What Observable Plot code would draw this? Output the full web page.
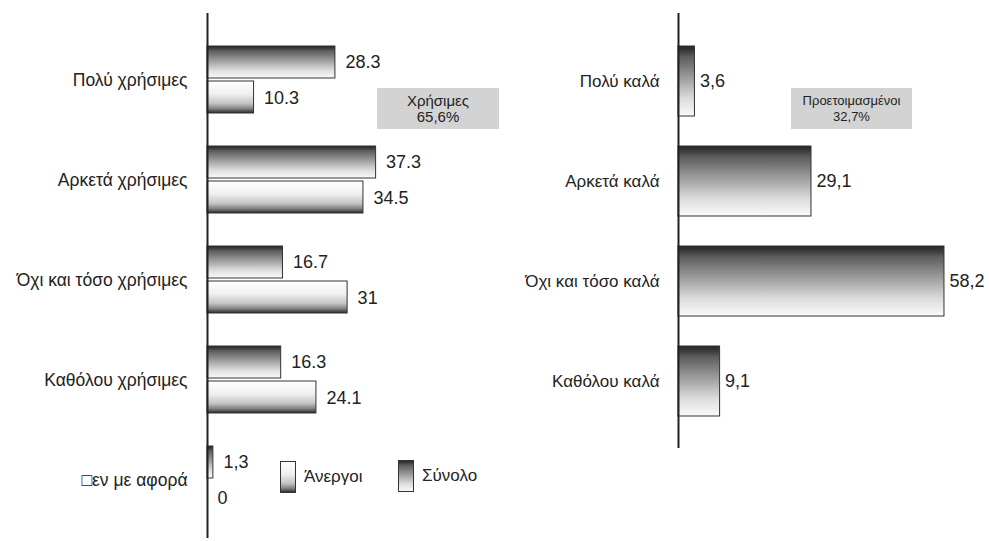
<!DOCTYPE html>
<html>
<head>
<meta charset="utf-8">
<script src="https://cdn.jsdelivr.net/npm/d3@7"></script>
<script src="https://cdn.jsdelivr.net/npm/@observablehq/plot@0.6"></script>
<style>
  html, body { margin: 0; padding: 0; background: #fff; }
  body { width: 989px; height: 541px; position: relative; overflow: hidden;
         font-family: "Liberation Sans", Arial, sans-serif; color: #222; }
  .panel { position: absolute; top: 0; }
  .note { position: absolute; background: #d3d3d3; text-align: center;
          line-height: 16px; color: #222; box-sizing: border-box; padding-top: 5px; }
  .legend { position: absolute; display: flex; align-items: center; font-size: 17px; color: #222; }
  .legend svg { margin-right: 7px; }
</style>
</head>
<body>
<svg width="0" height="0" style="position:absolute">
  <defs>
    <linearGradient id="gS" x1="0" y1="0" x2="0" y2="1">
      <stop offset="0" stop-color="#262626"/>
      <stop offset="0.07" stop-color="#3a3a3a"/>
      <stop offset="0.15" stop-color="#5c5c5c"/>
      <stop offset="0.45" stop-color="#9c9c9c"/>
      <stop offset="0.75" stop-color="#dcdcdc"/>
      <stop offset="1" stop-color="#fbfbfb"/>
    </linearGradient>
    <linearGradient id="gA" x1="0" y1="0" x2="0" y2="1">
      <stop offset="0" stop-color="#ffffff"/>
      <stop offset="0.4" stop-color="#f0f0f0"/>
      <stop offset="0.7" stop-color="#c4c4c4"/>
      <stop offset="0.88" stop-color="#7a7a7a"/>
      <stop offset="1" stop-color="#262626"/>
    </linearGradient>
  </defs>
</svg>
<div id="left" class="panel" style="left:0"></div>
<div id="right" class="panel" style="left:470px"></div>
<div class="note" style="left:377px; top:88px; width:122px; height:41px; font-size:15px;">Χρήσιμες<br>65,6%</div>
<div class="note" style="left:791px; top:88px; width:121px; height:41px; font-size:13px;">Προετοιμασμένοι<br>32,7%</div>
<div class="legend" style="left:280px; top:461px;">
  <svg width="17" height="32"><rect x="0.5" y="0.5" width="15" height="31" fill="url(#gA)" stroke="#333"/></svg>Άνεργοι
</div>
<div class="legend" style="left:398px; top:460px;">
  <svg width="17" height="32"><rect x="0.5" y="0.5" width="15" height="31" fill="url(#gS)" stroke="#333"/></svg>Σύνολο
</div>
<script>
const leftCategories = ["Πολύ χρήσιμες", "Αρκετά χρήσιμες", "Όχι και τόσο χρήσιμες", "Καθόλου χρήσιμες", "\u25A1εν με αφορά"];
const leftSynolo = [28.3, 37.3, 16.7, 16.3, 1.3];
const leftAnergoi = [10.3, 34.5, 31, 24.1, 0];
const leftSynoloLabels = ["28.3", "37.3", "16.7", "16.3", "1,3"];
const leftAnergoiLabels = ["10.3", "34.5", "31", "24.1", "0"];

const rightCategories = ["Πολύ καλά", "Αρκετά καλά", "Όχι και τόσο καλά", "Καθόλου καλά"];
const rightValues = [3.6, 29.1, 58.2, 9.1];
const rightLabels = ["3,6", "29,1", "58,2", "9,1"];

const font = "'Liberation Sans', Arial, sans-serif";

const synolo = leftCategories.map((c, i) => ({cat: c, v: leftSynolo[i], label: leftSynoloLabels[i]}));
const anergoi = leftCategories.map((c, i) => ({cat: c, v: leftAnergoi[i], label: leftAnergoiLabels[i]}));
const right = rightCategories.map((c, i) => ({cat: c, v: rightValues[i], label: rightLabels[i]}));

const leftPlot = Plot.plot({
  width: 560, height: 541,
  marginTop: 13, marginBottom: 3, marginLeft: 207, marginRight: 0,
  style: {fontFamily: font, background: "transparent", color: "#222", overflow: "visible"},
  x: {domain: [0, 60], range: [207, 478.2], axis: null},
  y: {domain: leftCategories, range: [29.5, 529.5], padding: 0, round: false, axis: null},
  marks: [
    Plot.barX(synolo.filter(d => d.v > 0), {x: "v", y: "cat", fill: "url(#gS)", stroke: "#333", strokeWidth: 1, insetTop: 16.5, insetBottom: 51.5}),
    Plot.barX(anergoi.filter(d => d.v > 0), {x: "v", y: "cat", fill: "url(#gA)", stroke: "#333", strokeWidth: 1, insetTop: 51.5, insetBottom: 16.5}),
    Plot.text(synolo, {x: "v", y: "cat", text: "label", dx: 10, dy: -18, textAnchor: "start", fontSize: 18, fill: "#222"}),
    Plot.text(anergoi, {x: "v", y: "cat", text: "label", dx: 10, dy: 18, textAnchor: "start", fontSize: 18, fill: "#222"}),
    Plot.axisY({tickSize: 0, tickPadding: 20, fontSize: 17.5, label: null, fill: "#222"}),
    Plot.ruleX([0], {stroke: "#222", strokeWidth: 2})
  ]
});
document.getElementById("left").appendChild(leftPlot);

const rightPlot = Plot.plot({
  width: 519, height: 541,
  marginTop: 13, marginBottom: 93, marginLeft: 207, marginRight: 0,
  style: {fontFamily: font, background: "transparent", color: "#222", overflow: "visible"},
  x: {domain: [0, 60], range: [208, 482.2], axis: null},
  y: {domain: rightCategories, range: [31, 431], padding: 0, round: false, axis: null},
  marks: [
    Plot.barX(right, {x: "v", y: "cat", fill: "url(#gS)", stroke: "#333", strokeWidth: 1, insetTop: 15, insetBottom: 15}),
    Plot.text(right, {x: "v", y: "cat", text: "label", dx: 5, textAnchor: "start", fontSize: 18, fill: "#222"}),
    Plot.axisY({tickSize: 0, tickPadding: 18, fontSize: 17, label: null, fill: "#222"}),
    Plot.ruleX([0], {stroke: "#222", strokeWidth: 2})
  ]
});
document.getElementById("right").appendChild(rightPlot);
</script>
</body>
</html>
